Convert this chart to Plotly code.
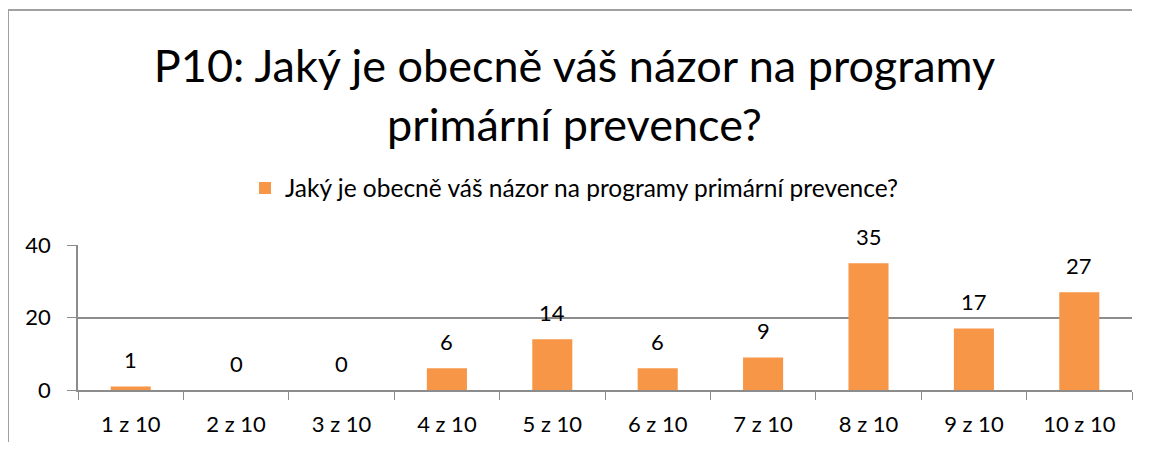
import plotly.graph_objects as go

# chart title and series
chart_title = "P10: Jaký je obecně váš názor na programy<br>primární prevence?"
series_name = "Jaký je obecně váš názor na programy primární prevence?"

categories = ["1 z 10", "2 z 10", "3 z 10", "4 z 10", "5 z 10",
              "6 z 10", "7 z 10", "8 z 10", "9 z 10", "10 z 10"]
values = [1, 0, 0, 6, 14, 6, 9, 35, 17, 27]

font_name = "Lato"
grid_color = "#8c8c8c"
frame_color = "#a0a0a0"

# the page adds an 8px body margin on every side, so the figure is drawn smaller
W, H = 1133, 434

fig = go.Figure(
    go.Bar(x=categories, y=values,
           name=series_name,
           marker_color="#F79646",
           marker_line_width=0,
           showlegend=True)
)

# data labels above the bars
for c, v in zip(categories, values):
    fig.add_annotation(x=c, y=v, text=str(v), showarrow=False,
                       yanchor="middle", yshift=27,
                       font=dict(size=22, color="#000000", family=font_name))

# chart frame (top and left edges, the rest is cut off in the picture)
frame_left, frame_top, frame_right = -0.0664, 2.62, 1.0
fig.add_shape(type="line", xref="paper", yref="paper",
              x0=frame_left, x1=frame_right, y0=frame_top, y1=frame_top,
              line=dict(color=frame_color, width=2))
fig.add_shape(type="line", xref="paper", yref="paper",
              x0=frame_left, x1=frame_left, y0=-0.45, y1=frame_top,
              line=dict(color=frame_color, width=2))

fig.update_layout(
    width=W, height=H,
    paper_bgcolor="white", plot_bgcolor="white",
    margin=dict(l=70, r=9, t=237, b=52),
    bargap=0.62,
    font=dict(family=font_name, color="#000000"),
    title=dict(text=chart_title, x=0.5, xanchor="center", xref="container",
               y=1 - 74 / H, yanchor="middle", yref="container",
               font=dict(size=45, family=font_name, color="#000000")),
    legend=dict(orientation="h", x=0.5, xanchor="center", xref="container",
                y=1 - 180 / H, yanchor="middle", yref="container",
                itemwidth=30,
                font=dict(size=24.5, family=font_name)),
)

fig.update_xaxes(
    type="category", tickson="boundaries", automargin=False,
    ticks="outside", ticklen=8, tickcolor=grid_color,
    showline=True, linecolor=grid_color, linewidth=1.5,
    showgrid=False, ticklabelstandoff=14,
    tickfont=dict(size=22, family=font_name),
)
fig.update_yaxes(
    range=[0, 40], dtick=20, automargin=False,
    ticks="outside", ticklen=9, tickcolor=grid_color,
    showline=True, linecolor=grid_color, linewidth=1.5,
    showgrid=True, gridcolor=grid_color, gridwidth=1.5,
    zeroline=False, ticklabelstandoff=12,
    tickfont=dict(size=22, family=font_name),
)

fig.write_html("out.html")
